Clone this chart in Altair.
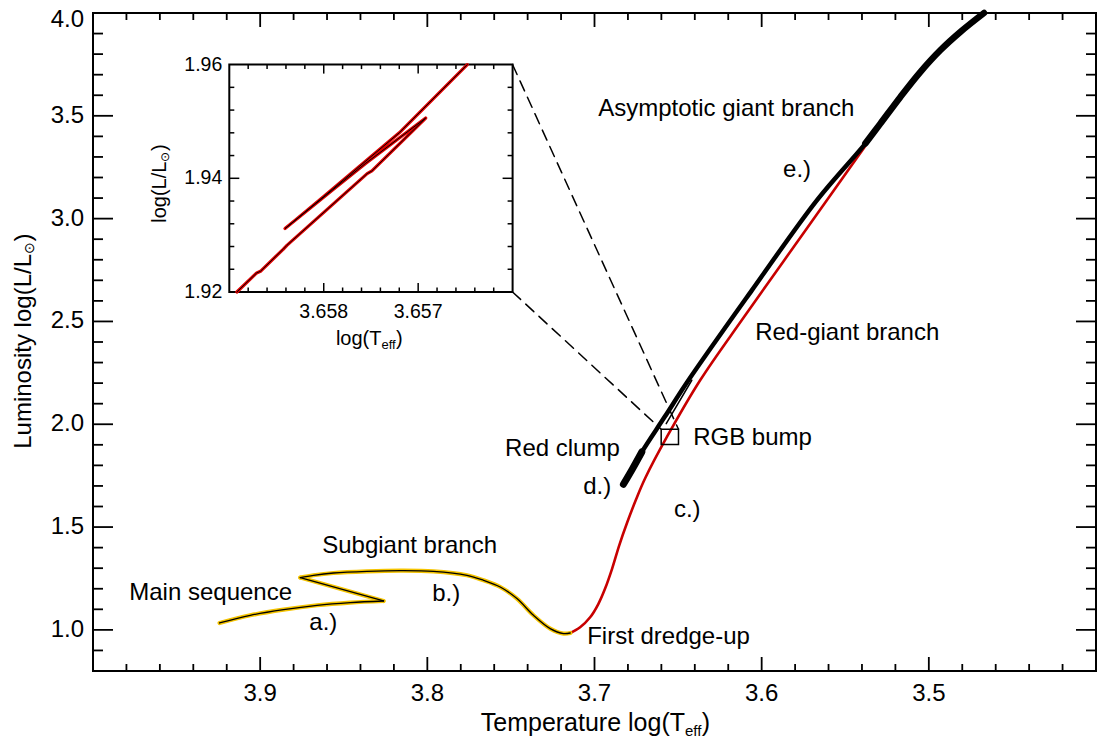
import altair as alt
import pandas as pd

# ---------------- data ----------------
# main sequence + subgiant branch (yellow/black), three pieces
ms_x = [3.9243, 3.9059, 3.8860, 3.8660, 3.8461, 3.8262]
ms_y = [1.0335, 1.0709, 1.0986, 1.1196, 1.1327, 1.1405]
hook_x = [3.8262, 3.8760]
hook_y = [1.1405, 1.2543]
sg_x = [3.8760, 3.8681, 3.8561, 3.8361, 3.8162, 3.7963, 3.7763, 3.7664,
        3.7564, 3.7464, 3.7365, 3.7265, 3.7185, 3.7145]
sg_y = [1.2543, 1.2655, 1.2767, 1.2849, 1.2883, 1.2849, 1.2655, 1.2412,
        1.2086, 1.1521, 1.0709, 1.0062, 0.9819, 0.9848]

# red-giant branch (red)
rgb_x = [3.7145, 3.7086, 3.7026, 3.6978, 3.6936, 3.6894, 3.6852, 3.6804,
         3.6751, 3.6697, 3.6567, 3.6368, 3.6111, 3.5746, 3.5381]
rgb_y = [0.9848, 1.0125, 1.0612, 1.1244, 1.2022, 1.2995, 1.4114, 1.5232,
         1.6351, 1.7372, 1.9381, 2.2140, 2.5155, 2.9338, 3.3521]

# red clump + asymptotic giant branch (black)
clump_x = [3.6827, 3.6775, 3.6717]
clump_y = [1.708, 1.780, 1.865]
agb_x = [3.6760, 3.6717, 3.6580, 3.6438, 3.6060, 3.5670, 3.5380, 3.5290,
         3.5170, 3.5050, 3.4930, 3.4810, 3.4670]
agb_y = [1.800, 1.865, 2.036, 2.214, 2.650, 3.089, 3.365, 3.462,
         3.592, 3.714, 3.820, 3.909, 4.000]
agb_top_x = [3.5380, 3.5290, 3.5170, 3.5050, 3.4930, 3.4810, 3.4670]
agb_top_y = [3.365, 3.462, 3.592, 3.714, 3.820, 3.909, 4.000]
agb2_x = [3.6571, 3.6418]
agb2_y = [2.003, 2.214]

# RGB bump box and zoom lines (main coordinates)
box_x, box_x2 = [3.66011], [3.64976]
box_y, box_y2 = [1.9012], [1.9756]
zoom_lines_x = [[3.74904, 3.64976], [3.74904, 3.66011]]
zoom_lines_y = [[3.7494, 1.9756], [2.6434, 1.9756]]

# inset track (inset coordinates)
ins_x = [3.65892, 3.65871, 3.65867, 3.65843, 3.65839, 3.65754, 3.65749,
         3.65692, 3.65756, 3.65791, 3.65841, 3.65800, 3.65720, 3.65648]
ins_y = [1.92000, 1.92335, 1.92364, 1.92751, 1.92821, 1.94082, 1.94129,
         1.95060, 1.94258, 1.93789, 1.93115, 1.93680, 1.94800, 1.96000]

# annotations
ann_text = ["Asymptotic giant branch", "e.)", "Red-giant branch", "RGB bump",
            "Red clump", "d.)", "c.)", "Subgiant branch", "Main sequence",
            "b.)", "a.)", "First dredge-up"]
ann_x = [3.6978, 3.5872, 3.6039, 3.6410, 3.7535, 3.7068, 3.6525, 3.8629,
         3.9783, 3.7971, 3.8706, 3.7044]
ann_y = [3.532, 3.235, 2.443, 1.932, 1.878, 1.694, 1.582, 1.407,
         1.178, 1.173, 1.032, 0.964]

# ticks
x_major = [3.9, 3.8, 3.7, 3.6, 3.5]
x_major_lab = ["3.9", "3.8", "3.7", "3.6", "3.5"]
x_minor = [3.98, 3.96, 3.94, 3.92, 3.88, 3.86, 3.84, 3.82, 3.78, 3.76, 3.74,
           3.72, 3.68, 3.66, 3.64, 3.62, 3.58, 3.56, 3.54, 3.52, 3.48, 3.46,
           3.44, 3.42]
y_major = [1.0, 1.5, 2.0, 2.5, 3.0, 3.5, 4.0]
y_lab_v = [1.0, 1.5, 2.0, 2.5, 3.0, 3.5]
y_lab = ["1.0", "1.5", "2.0", "2.5", "3.0", "3.5"]
y_top_v = [4.0]
y_top_lab = ["4.0"]
y_minor = [0.9, 1.1, 1.2, 1.3, 1.4, 1.6, 1.7, 1.8, 1.9, 2.1, 2.2, 2.3, 2.4,
           2.6, 2.7, 2.8, 2.9, 3.1, 3.2, 3.3, 3.4, 3.6, 3.7, 3.8, 3.9]
ix_major = [3.658, 3.657]
ix_major_lab = ["3.658", "3.657"]
ix_minor = [3.6588, 3.6586, 3.6584, 3.6582, 3.6578, 3.6576, 3.6574, 3.6572,
            3.6568, 3.6566, 3.6564, 3.6562]
iy_major = [1.94]
iy_lab_v = [1.96, 1.94, 1.92]
iy_lab = ["1.96", "1.94", "1.92"]
iy_minor = [1.924, 1.928, 1.932, 1.936, 1.944, 1.948, 1.952, 1.956]

# ---------------- layout ----------------
W, H = 1003, 658
FONT = "Liberation Sans, Arial, Helvetica, sans-serif"
IL, IR, IT, IB = 136.3, 419.6, 51.6, 279.0  # inset box in pixels

xs = alt.Scale(domain=[3.4, 4.0], reverse=True, nice=False, zero=False)
ys = alt.Scale(domain=[0.8, 4.0], nice=False, zero=False)
xs_in = alt.Scale(domain=[3.656, 3.659], range=[IR, IL], nice=False, zero=False)
ys_in = alt.Scale(domain=[1.92, 1.96], range=[IB, IT], nice=False, zero=False)


def path_df(xl, yl, seg=0):
    return pd.DataFrame({"x": xl, "y": yl, "i": list(range(len(xl))), "seg": seg})


def line(df, color, width, sx, sy, interp="catmull-rom", dash=None):
    kw = dict(color=color, strokeWidth=width, interpolate=interp,
              strokeCap="round", strokeJoin="round")
    if dash:
        kw["strokeDash"] = dash
    return alt.Chart(df).mark_line(**kw).encode(
        x=alt.X("x:Q", scale=sx, axis=None),
        y=alt.Y("y:Q", scale=sy, axis=None),
        order="i:Q", detail="seg:N")


def vticks(vals, y0, y1, sx, w=1.8):
    return alt.Chart(pd.DataFrame({"v": vals})).mark_rule(
        color="black", strokeWidth=w).encode(
        x=alt.X("v:Q", scale=sx, axis=None), y=alt.value(y0), y2=alt.value(y1))


def hticks(vals, x0, x1, sy, w=1.8):
    return alt.Chart(pd.DataFrame({"v": vals})).mark_rule(
        color="black", strokeWidth=w).encode(
        y=alt.Y("v:Q", scale=sy, axis=None), x=alt.value(x0), x2=alt.value(x1))


def ptext(txt, x, y, size, align="left", baseline="alphabetic", angle=0,
          dx=0, dy=0):
    return alt.Chart(pd.DataFrame({"t": [txt]})).mark_text(
        font=FONT, fontSize=size, align=align, baseline=baseline, angle=angle,
        dx=dx, dy=dy, color="black").encode(
        x=alt.value(x), y=alt.value(y), text="t:N")


yellow = pd.concat([path_df(ms_x, ms_y, 0), path_df(hook_x, hook_y, 1),
                    path_df(sg_x, sg_y, 2)])

main_layers = [
    line(path_df(rgb_x, rgb_y), "#c80000", 2.6, xs, ys),
    line(yellow, "#f5c400", 4.2, xs, ys),
    line(yellow, "black", 1.3, xs, ys),
    line(path_df(agb_x, agb_y), "black", 4.5, xs, ys),
    line(path_df(agb_top_x, agb_top_y), "black", 6.5, xs, ys),
    line(path_df(clump_x, clump_y), "black", 7.0, xs, ys),
    line(path_df(agb2_x, agb2_y), "black", 1.5, xs, ys, interp="linear"),
]
# zoom (dashed) lines
zl = pd.concat([path_df(zoom_lines_x[k], zoom_lines_y[k], k) for k in range(2)])
main_layers.append(line(zl, "black", 1.5, xs, ys, interp="linear", dash=[11, 7]))
# RGB bump box
main_layers.append(
    alt.Chart(pd.DataFrame({"x": box_x, "x2": box_x2, "y": box_y, "y2": box_y2}))
    .mark_rect(fill=None, stroke="black", strokeWidth=1.5, filled=False)
    .encode(x=alt.X("x:Q", scale=xs, axis=None), x2="x2:Q",
            y=alt.Y("y:Q", scale=ys, axis=None), y2="y2:Q"))
# annotations
main_layers.append(
    alt.Chart(pd.DataFrame({"x": ann_x, "y": ann_y, "t": ann_text}))
    .mark_text(font=FONT, fontSize=24, align="left", baseline="middle", color="black")
    .encode(x=alt.X("x:Q", scale=xs, axis=None),
            y=alt.Y("y:Q", scale=ys, axis=None), text="t:N"))
# main ticks (inward, all four sides)
main_layers += [
    vticks(x_major, H, H - 14, xs), vticks(x_minor, H, H - 7, xs),
    vticks(x_major, 0, 14, xs), vticks(x_minor, 0, 7, xs),
    hticks(y_major, 0, 20, ys), hticks(y_minor, 0, 10, ys),
    hticks(y_major, W, W - 20, ys), hticks(y_minor, W, W - 10, ys),
]
# main tick labels
main_layers.append(
    alt.Chart(pd.DataFrame({"v": x_major, "t": x_major_lab}))
    .mark_text(font=FONT, fontSize=24, align="center", baseline="top", color="black")
    .encode(x=alt.X("v:Q", scale=xs, axis=None), y=alt.value(H + 11), text="t:N"))
main_layers.append(
    alt.Chart(pd.DataFrame({"v": y_lab_v, "t": y_lab}))
    .mark_text(font=FONT, fontSize=24, align="right", baseline="middle", color="black")
    .encode(y=alt.Y("v:Q", scale=ys, axis=None), x=alt.value(-9), text="t:N"))
main_layers.append(
    alt.Chart(pd.DataFrame({"v": y_top_v, "t": y_top_lab}))
    .mark_text(font=FONT, fontSize=24, align="right", baseline="middle", color="black", dy=7)
    .encode(y=alt.Y("v:Q", scale=ys, axis=None), x=alt.value(-9), text="t:N"))

# axis titles with subscripts
XT_P, XT_Y = 592.0, 718.0
main_layers += [
    ptext("Temperature log(T", XT_P, XT_Y, 25, align="right"),
    ptext("eff", XT_P, XT_Y, 15, align="left", dy=5),
    ptext(")", XT_P + 16.7, XT_Y, 25, align="left"),
]
YT_X, YT_P = -69.0, 241.0
main_layers += [
    ptext("Luminosity log(L/L", YT_X, YT_P, 24, align="right", baseline="middle", angle=270),
    ptext("\u2299", YT_X, YT_P, 14, align="left", baseline="middle", angle=270, dy=6),
    ptext(")", YT_X, YT_P, 24, align="left", baseline="middle", angle=270, dx=12.5),
]

main = alt.layer(*main_layers)

# ---------------- inset ----------------
inset_layers = [
    alt.Chart(pd.DataFrame({"x": [3.659], "x2": [3.656], "y": [1.92], "y2": [1.96]}))
    .mark_rect(fill="white", stroke="black", strokeWidth=2)
    .encode(x=alt.X("x:Q", scale=xs_in, axis=None), x2="x2:Q",
            y=alt.Y("y:Q", scale=ys_in, axis=None), y2="y2:Q"),
    line(path_df(ins_x, ins_y), "#dd0000", 3.2, xs_in, ys_in, interp="linear"),
    line(path_df(ins_x, ins_y), "black", 1.0, xs_in, ys_in, interp="linear"),
    vticks(ix_major, IB, IB - 9, xs_in, 1.5), vticks(ix_minor, IB, IB - 4.5, xs_in, 1.5),
    vticks(ix_major, IT, IT + 9, xs_in, 1.5), vticks(ix_minor, IT, IT + 4.5, xs_in, 1.5),
    hticks(iy_major, IL, IL + 10, ys_in, 1.5), hticks(iy_minor, IL, IL + 5, ys_in, 1.5),
    hticks(iy_major, IR, IR - 10, ys_in, 1.5), hticks(iy_minor, IR, IR - 5, ys_in, 1.5),
    alt.Chart(pd.DataFrame({"v": ix_major, "t": ix_major_lab}))
    .mark_text(font=FONT, fontSize=19.5, align="center", baseline="top", color="black")
    .encode(x=alt.X("v:Q", scale=xs_in, axis=None), y=alt.value(IB + 11), text="t:N"),
    alt.Chart(pd.DataFrame({"v": iy_lab_v, "t": iy_lab}))
    .mark_text(font=FONT, fontSize=19.5, align="right", baseline="middle", color="black")
    .encode(y=alt.Y("v:Q", scale=ys_in, axis=None), x=alt.value(IL - 7), text="t:N"),
]
IXT_P, IXT_Y = 288.5, 332.0
inset_layers += [
    ptext("log(T", IXT_P, IXT_Y, 20, align="right"),
    ptext("eff", IXT_P, IXT_Y, 13, align="left", dy=4),
    ptext(")", IXT_P + 14.5, IXT_Y, 20, align="left"),
]
IYT_X, IYT_P = 67.0, 148.6
inset_layers += [
    ptext("log(L/L", IYT_X, IYT_P, 20, align="right", baseline="middle", angle=270),
    ptext("\u2299", IYT_X, IYT_P, 12, align="left", baseline="middle", angle=270, dy=5),
    ptext(")", IYT_X, IYT_P, 20, align="left", baseline="middle", angle=270, dx=10.5),
]
inset = alt.layer(*inset_layers)

chart = (
    alt.layer(main, inset)
    .resolve_scale(x="independent", y="independent")
    .properties(width=W, height=H,
                autosize=alt.AutoSizeParams(type="none"),
                padding={"left": 93, "top": 13, "right": 1, "bottom": 69},
                background="white")
    .configure_view(stroke="black", strokeWidth=2)
)

chart.save("out.html", embed_options={"renderer": "svg", "actions": False})
